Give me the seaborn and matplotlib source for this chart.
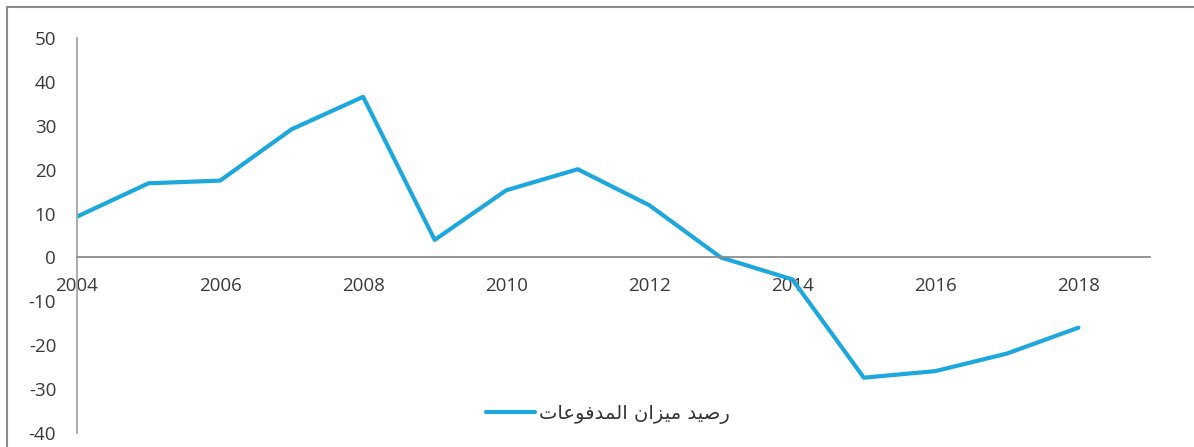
import matplotlib
matplotlib.use("Agg")
import matplotlib.pyplot as plt
from matplotlib.lines import Line2D
import seaborn as sns
import pandas as pd

# ---- data ----
years = [2004, 2005, 2006, 2007, 2008, 2009, 2010, 2011, 2012, 2013, 2014, 2015, 2016, 2017, 2018]
balance = [9.3, 16.9, 17.5, 29.2, 36.6, 4.0, 15.3, 20.1, 11.9, 0.0, -5.0, -27.4, -25.9, -21.9, -16.0]
series_label = "رصيد ميزان المدفوعات"
x_ticks = [2004, 2006, 2008, 2010, 2012, 2014, 2016, 2018]
y_ticks = [-40, -30, -20, -10, 0, 10, 20, 30, 40, 50]

# ---- minimal Arabic shaping (presentation forms) for matplotlib ----
# base = isolated form in Arabic Presentation Forms-B; dual-joining letters have 4 forms
ARABIC = {
    'ا': (0xFE8D, False), 'ت': (0xFE95, True), 'د': (0xFEA9, False),
    'ر': (0xFEAD, False), 'ز': (0xFEAF, False), 'ص': (0xFEB9, True),
    'ع': (0xFEC9, True), 'ف': (0xFED1, True), 'ل': (0xFEDD, True),
    'م': (0xFEE1, True), 'ن': (0xFEE5, True), 'و': (0xFEED, False),
    'ي': (0xFEF1, True),
}


def shape_arabic(text):
    out = []
    n = len(text)
    for i, ch in enumerate(text):
        if ch not in ARABIC:
            out.append(ch)
            continue
        base, dual = ARABIC[ch]
        prev_joins = i > 0 and text[i - 1] in ARABIC and ARABIC[text[i - 1]][1]
        next_joins = dual and i < n - 1 and text[i + 1] in ARABIC
        if prev_joins and next_joins:
            off = 3
        elif prev_joins:
            off = 1
        elif next_joins:
            off = 2
        else:
            off = 0
        out.append(chr(base + off))
    return "".join(reversed(out))


df = pd.DataFrame({"year": years, "value": balance})

sns.set_theme(style="white")
plt.rcParams["font.family"] = ["Open Sans", "DejaVu Sans"]

fig = plt.figure(figsize=(11.94, 4.47), dpi=100)
ax = fig.add_axes([77 / 1194, 1 - 433 / 447, (1150 - 77) / 1194, (433 - 38) / 447])

sns.lineplot(data=df, x="year", y="value", ax=ax, color="#1ca8dd", linewidth=3.0,
             label=shape_arabic(series_label), legend=False)

ax.set_xlim(2004, 2019)
ax.set_ylim(-40, 50)
ax.set_xticks(x_ticks)
ax.set_yticks(y_ticks)
ax.set_xticklabels([str(t) for t in x_ticks])
ax.set_yticklabels([str(t) for t in y_ticks])
ax.set_xlabel("")
ax.set_ylabel("")

for s in ["top", "right"]:
    ax.spines[s].set_visible(False)
ax.spines["bottom"].set_position(("data", 0))
ax.spines["bottom"].set_color("#8c8c8c")
ax.spines["bottom"].set_linewidth(1.3)
ax.spines["left"].set_color("#a6a6a6")
ax.spines["left"].set_linewidth(1.3)
ax.grid(False)

ax.tick_params(axis="x", length=0, pad=14, labelsize=13.5, labelcolor="#3a3a3a")
ax.tick_params(axis="y", length=0, pad=15, labelsize=13.5, labelcolor="#3a3a3a")

leg_handle = Line2D([0], [0], color="#1ca8dd", linewidth=3.0)
fig.legend([leg_handle], [shape_arabic(series_label)], loc="center",
           bbox_to_anchor=(608 / 1194, 1 - 414 / 447), frameon=False,
           prop={"family": ["DejaVu Sans"], "size": 14}, handlelength=2.5,
           handletextpad=0.25, labelcolor="#333333")

# outer chart border (top and left visible)
fig.add_artist(Line2D([7 / 1194, 1.0], [1 - 7 / 447, 1 - 7 / 447],
                      transform=fig.transFigure, color="#8a8a8a", linewidth=1.5))
fig.add_artist(Line2D([7 / 1194, 7 / 1194], [0.0, 1 - 7 / 447],
                      transform=fig.transFigure, color="#8a8a8a", linewidth=1.5))

fig.savefig("out.png", dpi=100, facecolor="white")
